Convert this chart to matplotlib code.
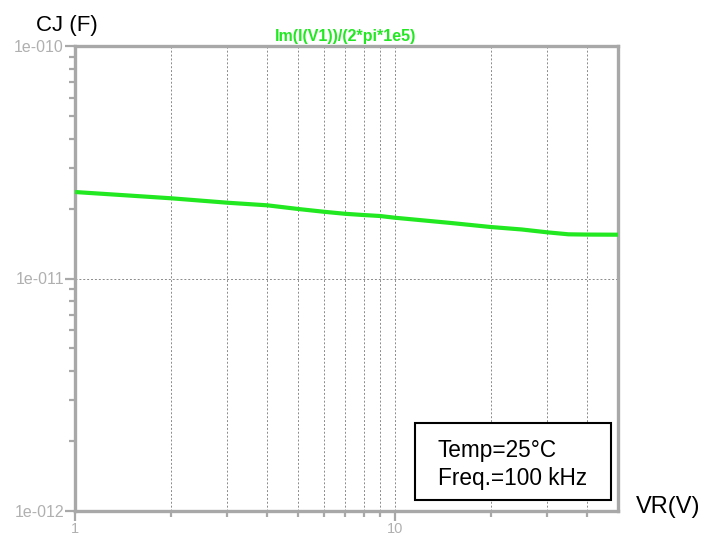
import matplotlib
matplotlib.use("Agg")
import matplotlib.pyplot as plt
from matplotlib.ticker import FixedLocator, FixedFormatter, NullFormatter
from matplotlib.patches import Rectangle

# ---- data ----
vr = [1, 2, 3, 4, 5, 6, 7, 8, 9, 10, 15, 20, 25, 30, 35, 40, 50]
cj = [2.355e-11, 2.213e-11, 2.118e-11, 2.064e-11, 1.990e-11, 1.937e-11, 1.898e-11,
      1.875e-11, 1.857e-11, 1.826e-11, 1.733e-11, 1.665e-11, 1.625e-11, 1.580e-11,
      1.549e-11, 1.545e-11, 1.543e-11]
x_major = [1, 10]
x_major_labels = ["1", "10"]
x_minor = [2, 3, 4, 5, 6, 7, 8, 9, 20, 30, 40]
y_major = [1e-12, 1e-11, 1e-10]
y_major_labels = ["1e-012", "1e-011", "1e-010"]
y_minor = [k * 1e-12 for k in range(2, 10)] + [k * 1e-11 for k in range(2, 10)]
title_text = "Im(I(V1))/(2*pi*1e5)"
ylabel_text = "CJ (F)"
xlabel_text = "VR(V)"
box_lines = ["Temp=25\u00b0C", "Freq.=100 kHz"]

plt.rcParams['font.family'] = ['Liberation Sans', 'DejaVu Sans']

W, H = 715, 538
fig = plt.figure(figsize=(W / 100, H / 100), dpi=100)

def fx(px):
    return px / W

def fy(py):
    return 1 - py / H

L, R, T, B = 75, 618, 46, 511
ax = fig.add_axes([fx(L), fy(B), fx(R) - fx(L), fy(T) - fy(B)])
ax.set_xscale('log')
ax.set_yscale('log')
ax.set_xlim(1, 50)
ax.set_ylim(1e-12, 1e-10)

green = '#22e822'
ax.plot(vr, cj, color=green, lw=3.0, solid_capstyle='butt', zorder=3)

gray = '#a8a8a8'
for s in ax.spines.values():
    s.set_color(gray)
    s.set_linewidth(2.4)

ax.xaxis.set_major_locator(FixedLocator(x_major))
ax.xaxis.set_major_formatter(FixedFormatter(x_major_labels))
ax.xaxis.set_minor_locator(FixedLocator(x_minor))
ax.xaxis.set_minor_formatter(NullFormatter())
ax.yaxis.set_major_locator(FixedLocator(y_major))
ax.yaxis.set_major_formatter(FixedFormatter(y_major_labels))
ax.yaxis.set_minor_locator(FixedLocator(y_minor))
ax.yaxis.set_minor_formatter(NullFormatter())

ax.tick_params(axis='both', which='major', color=gray, width=1.6, length=7,
               labelcolor='#b0b0b0', labelsize=11.5, direction='out')
ax.tick_params(axis='both', which='minor', color=gray, width=1.6, length=4, direction='out')
ax.tick_params(axis='x', which='major', pad=1, labelsize=10.5)
ax.tick_params(axis='y', which='major', pad=1)

ax.set_axisbelow(True)
ax.grid(which='both', axis='x', color='#8a8a8a', linestyle=(0, (2, 2)), lw=0.7)
ax.grid(which='major', axis='y', color='#8a8a8a', linestyle=(0, (2, 2)), lw=0.7)

# texts
fig.text(fx(346), fy(41.5), title_text, color=green, fontsize=11.5, fontweight='bold',
         ha='center', va='baseline')
fig.text(fx(36), fy(30.5), ylabel_text, color='black', fontsize=16, ha='left', va='baseline')
fig.text(fx(636), fy(513), xlabel_text, color='black', fontsize=17, ha='left', va='baseline')

# annotation box
fig.patches.append(Rectangle((fx(415), fy(500)), fx(611) - fx(415), fy(423) - fy(500),
                             transform=fig.transFigure, fill=True, facecolor='white',
                             edgecolor='black', lw=1.5, zorder=5))
fig.text(fx(438), fy(457), box_lines[0], fontsize=16.3, ha='left', va='baseline', zorder=6)
fig.text(fx(438), fy(485.5), box_lines[1], fontsize=16.3, ha='left', va='baseline', zorder=6)

fig.savefig('out.png', dpi=100)
